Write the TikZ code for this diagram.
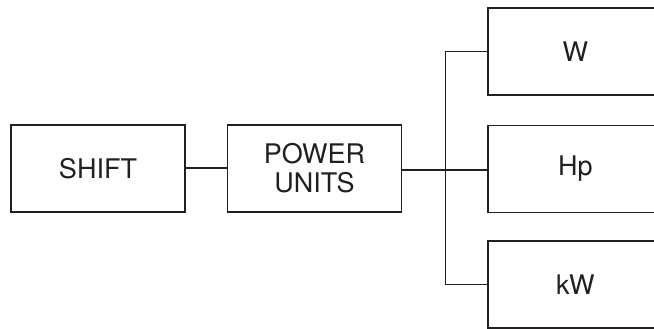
\documentclass[tikz,border=0pt]{standalone}
\usepackage{fontspec}
\setmainfont{TeX Gyre Heros}
\definecolor{ink}{HTML}{231F20}
\begin{document}
\begin{tikzpicture}[x=1pt,y=-1pt,
  box/.style={draw=ink, line width=1.7pt, minimum width=174pt, minimum height=87pt,
    inner sep=0pt, align=center, text=ink, font=\fontsize{27}{28.5}\selectfont},
  wire/.style={draw=ink, line width=1.5pt}]
\path[use as bounding box] (0,0) rectangle (654,329);
\clip (0,0) rectangle (654,329);
\node[box] (shift) at (98,168.2) {SHIFT};
\node[box] (power) at (314.5,168.2) {POWER\\UNITS};
\node[box] (w) at (575.3,51.5) {W};
\node[box] (hp) at (575.3,169) {Hp};
\node[box] (kw) at (575.3,284.7) {kW};
\coordinate (bus) at (445.3,170);
\draw[wire] (shift.east) -- (power.west);
\draw[wire] (power.east |- bus) -- (hp.west |- bus);
\draw[wire] (w.west) -- (w.west -| bus) -- (kw.west -| bus) -- (kw.west);
\end{tikzpicture}
\end{document}
